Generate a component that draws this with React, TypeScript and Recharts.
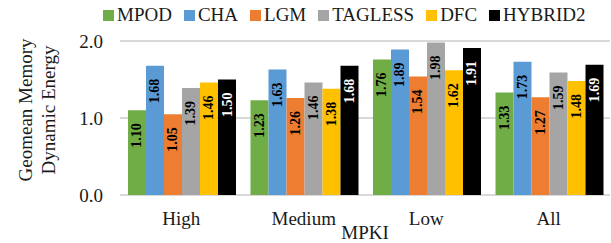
import { BarChart, Bar, XAxis, YAxis, CartesianGrid, LabelList } from "recharts";

const FONT = "'Liberation Serif', 'Times New Roman', serif";
const TEXT = "#1a1a1a";
const GRID = "#d9d9d9";

const categories = ["High", "Medium", "Low", "All"];
const mpod = [1.1, 1.23, 1.76, 1.33];
const cha = [1.68, 1.63, 1.89, 1.73];
const lgm = [1.05, 1.26, 1.54, 1.27];
const tagless = [1.39, 1.46, 1.98, 1.59];
const dfc = [1.46, 1.38, 1.62, 1.48];
const hybrid2 = [1.5, 1.68, 1.91, 1.69];
const yTicks = [0, 1, 2];

const series = [
  { key: "MPOD", values: mpod, color: "#70AD47", label: "#000" },
  { key: "CHA", values: cha, color: "#5B9BD5", label: "#000" },
  { key: "LGM", values: lgm, color: "#ED7D31", label: "#000" },
  { key: "TAGLESS", values: tagless, color: "#A5A5A5", label: "#000" },
  { key: "DFC", values: dfc, color: "#FFC000", label: "#000" },
  { key: "HYBRID2", values: hybrid2, color: "#000000", label: "#fff" },
];

const data = categories.map((name, i) => {
  const row: Record<string, string | number> = { name };
  series.forEach((s) => (row[s.key] = s.values[i]));
  return row;
});

// rotated value label, reads bottom-to-top, hanging from the bar top
function barLabel(fill: string) {
  return (props: any) => {
    const { x, y, width, value } = props;
    const cx = x + width / 2;
    const cy = y + 13;
    return (
      <text
        x={cx}
        y={cy}
        transform={`rotate(-90, ${cx}, ${cy})`}
        textAnchor="end"
        dominantBaseline="central"
        fontFamily={FONT}
        fontSize={14}
        fontWeight="bold"
        fill={fill}
      >
        {Number(value).toFixed(2)}
      </text>
    );
  };
}

function YTitle() {
  const cx = 37;
  const cy = 110;
  return (
    <text
      x={cx}
      y={cy}
      transform={`rotate(-90, ${cx}, ${cy})`}
      textAnchor="middle"
      fontFamily={FONT}
      fontSize={19}
      fill={TEXT}
    >
      <tspan x={cx} dy={-5}>Geomean Memory</tspan>
      <tspan x={cx} dy={23}>Dynamic Energy</tspan>
    </text>
  );
}

export default function App() {
  return (
    <div style={{ position: "absolute", left: 0, top: 0, width: 611, height: 243, background: "#fff" }}>
      <div
        style={{
          position: "absolute",
          left: 103,
          top: 4,
          display: "flex",
          alignItems: "center",
          fontFamily: FONT,
          fontSize: 19,
          color: TEXT,
          whiteSpace: "nowrap",
          zIndex: 1,
        }}
      >
        {series.map((s) => (
          <span key={s.key} style={{ display: "flex", alignItems: "center", marginRight: 12 }}>
            <span style={{ width: 11, height: 11, background: s.color, marginRight: 3 }} />
            {s.key}
          </span>
        ))}
      </div>
      <BarChart
        width={611}
        height={243}
        data={data}
        margin={{ top: 41, right: 1, bottom: 0, left: 0 }}
        barCategoryGap={8}
        barGap={0}
      >
        <CartesianGrid vertical={false} stroke={GRID} strokeWidth={2} />
        <XAxis
          dataKey="name"
          height={48}
          axisLine={false}
          tickLine={false}
          tickSize={0}
          tickMargin={17}
          tick={{ fontFamily: FONT, fontSize: 19, fill: TEXT }}
          label={{
            value: "MPKI",
            position: "insideBottom",
            offset: 4,
            fontFamily: FONT,
            fontSize: 19,
            fill: TEXT,
          }}
        />
        <YAxis
          width={120}
          domain={[0, 2]}
          ticks={yTicks}
          axisLine={false}
          tickLine={false}
          tickSize={0}
          tickMargin={17}
          tickFormatter={(v) => Number(v).toFixed(1)}
          tick={{ fontFamily: FONT, fontSize: 19, fill: TEXT }}
          label={<YTitle />}
        />
        {series.map((s) => (
          <Bar key={s.key} dataKey={s.key} fill={s.color} isAnimationActive={false}>
            <LabelList dataKey={s.key} content={barLabel(s.label)} />
          </Bar>
        ))}
      </BarChart>
    </div>
  );
}
